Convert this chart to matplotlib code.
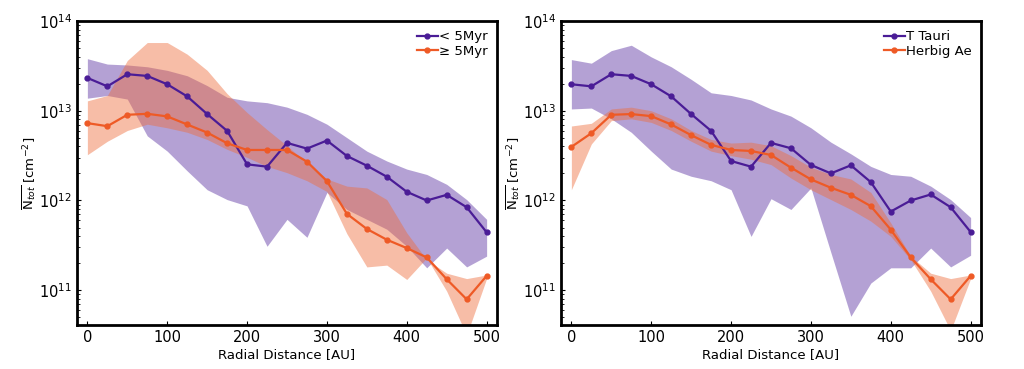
import matplotlib
matplotlib.use("Agg")
import matplotlib.pyplot as plt
import numpy as np

radius = np.arange(0, 501, 25)

# left panel: age split (log10 values)
young_mean = [13.366, 13.272, 13.407, 13.388, 13.295, 13.160, 12.963, 12.776, 12.403, 12.377, 12.642,
              12.578, 12.668, 12.496, 12.388, 12.265, 12.097, 12.000, 12.063, 11.925, 11.646]
young_hi = [13.58, 13.52, 13.51, 13.49, 13.45, 13.39, 13.28, 13.15, 13.11, 13.09, 13.04,
            12.96, 12.85, 12.70, 12.55, 12.44, 12.35, 12.29, 12.18, 12.01, 11.79]
young_lo = [13.14, 13.17, 13.13, 12.72, 12.55, 12.33, 12.12, 12.01, 11.94, 11.49, 11.79,
            11.59, 12.09, 11.90, 11.79, 11.68, 11.49, 11.25, 11.47, 11.26, 11.38]
old_mean = [12.862, 12.828, 12.955, 12.966, 12.937, 12.847, 12.757, 12.638, 12.563, 12.563, 12.563,
            12.433, 12.216, 11.851, 11.683, 11.563, 11.470, 11.366, 11.123, 10.899, 11.160]
old_hi = [13.11, 13.17, 13.56, 13.76, 13.76, 13.63, 13.45, 13.19, 12.98, 12.79, 12.61,
          12.42, 12.24, 12.16, 12.14, 12.01, 11.64, 11.34, 11.19, 11.13, 11.17]
old_lo = [12.51, 12.66, 12.78, 12.85, 12.81, 12.76, 12.68, 12.57, 12.48, 12.38, 12.31,
          12.22, 12.10, 11.63, 11.26, 11.28, 11.12, 11.36, 10.99, 10.50, 11.13]

# right panel: stellar type split
tt_mean = [13.295, 13.272, 13.407, 13.388, 13.295, 13.160, 12.963, 12.776, 12.440, 12.377, 12.642,
           12.582, 12.396, 12.302, 12.392, 12.205, 11.877, 12.000, 12.067, 11.925, 11.649]
tt_hi = [13.57, 13.53, 13.67, 13.73, 13.60, 13.49, 13.35, 13.20, 13.17, 13.12, 13.02,
         12.94, 12.81, 12.65, 12.52, 12.38, 12.29, 12.27, 12.16, 12.01, 11.81]
tt_lo = [13.02, 13.03, 12.91, 12.76, 12.55, 12.35, 12.27, 12.22, 12.12, 11.60, 12.02,
         11.90, 12.14, 11.42, 10.71, 11.08, 11.25, 11.25, 11.47, 11.26, 11.39]
hae_mean = [12.597, 12.750, 12.955, 12.963, 12.940, 12.847, 12.728, 12.620, 12.563, 12.552, 12.507,
            12.366, 12.235, 12.142, 12.063, 11.937, 11.675, 11.366, 11.123, 10.899, 11.160]
hae_hi = [12.83, 12.86, 13.02, 13.04, 13.00, 12.91, 12.78, 12.68, 12.64, 12.65, 12.61,
          12.50, 12.37, 12.29, 12.24, 12.09, 11.75, 11.38, 11.19, 11.13, 11.17]
hae_lo = [12.12, 12.63, 12.89, 12.91, 12.87, 12.78, 12.66, 12.55, 12.50, 12.46, 12.40,
          12.25, 12.12, 12.01, 11.90, 11.77, 11.60, 11.34, 10.99, 10.55, 11.13]

PURPLE_LINE = '#4a1c96'
PURPLE_FILL = '#6a45ab'
ORANGE_LINE = '#ee5a26'
ORANGE_FILL = '#ee6d3c'

panels = [
    (young_mean, young_lo, young_hi, old_mean, old_lo, old_hi, '< 5Myr', '≥ 5Myr'),
    (tt_mean, tt_lo, tt_hi, hae_mean, hae_lo, hae_hi, 'T Tauri', 'Herbig Ae'),
]

fig = plt.figure(figsize=(10.24, 3.69), dpi=100)
lefts = [77 / 1024, 561 / 1024]

for left, (pm, plo, phi, om, olo, ohi, lab1, lab2) in zip(lefts, panels):
    ax = fig.add_axes([left, 44 / 369, 420 / 1024, 304 / 369])
    ax.fill_between(radius, 10 ** np.array(plo), 10 ** np.array(phi), color=PURPLE_FILL, alpha=0.5, lw=0)
    ax.fill_between(radius, 10 ** np.array(olo), 10 ** np.array(ohi), color=ORANGE_FILL, alpha=0.45, lw=0)
    ax.plot(radius, 10 ** np.array(pm), '-o', color=PURPLE_LINE, lw=1.6, ms=3.5, label=lab1)
    ax.plot(radius, 10 ** np.array(om), '-o', color=ORANGE_LINE, lw=1.6, ms=3.5, label=lab2)
    ax.set_yscale('log')
    ax.set_xlim(-13, 513)
    ax.set_ylim(4.1e10, 1e14)
    ax.set_xticks([0, 100, 200, 300, 400, 500])
    ax.tick_params(direction='in', which='both', labelsize=10.5, length=3)
    ax.tick_params(which='minor', length=2)
    for s in ax.spines.values():
        s.set_linewidth(2)
    ax.set_xlabel('Radial Distance [AU]', fontsize=9.5, labelpad=2)
    ax.set_ylabel(r'$\overline{\mathrm{N}_{tot}}$ [cm$^{-2}$]', fontsize=9.5, labelpad=1)
    ax.legend(loc='upper right', frameon=False, fontsize=9.5, handlelength=1.6,
              handletextpad=0.1, labelspacing=0.1, borderaxespad=0.3)

fig.savefig('out.png', dpi=100)
